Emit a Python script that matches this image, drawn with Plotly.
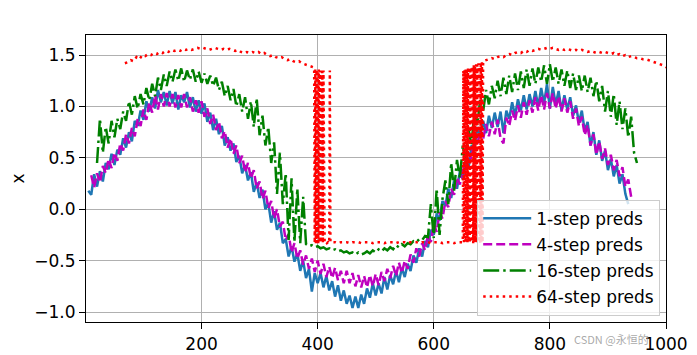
import plotly.graph_objects as go

# ---- data ----
blue_t = list(range(5, 936, 5))
blue_v = [
    0.18, 0.14, 0.34, 0.22, 0.37, 0.27, 0.45, 0.39, 0.54, 0.43,
    0.58, 0.53, 0.69, 0.60, 0.75, 0.66, 0.86, 0.81, 0.96, 0.87,
    1.05, 0.95, 1.09, 0.98, 1.16, 1.04, 1.14, 1.01, 1.15, 1.03,
    1.14, 0.97, 1.11, 1.04, 1.14, 0.99, 1.09, 0.95, 1.06, 0.93,
    1.03, 0.85, 0.94, 0.77, 0.88, 0.73, 0.81, 0.62, 0.70, 0.57,
    0.64, 0.46, 0.52, 0.35, 0.43, 0.28, 0.36, 0.17, 0.26, 0.11,
    0.19, 0.00, 0.06, -0.13, -0.02, -0.20, -0.13, -0.33, -0.29, -0.46,
    -0.36, -0.51, -0.43, -0.60, -0.50, -0.67, -0.58, -0.80, -0.62, -0.72,
    -0.62, -0.76, -0.65, -0.79, -0.70, -0.85, -0.74, -0.89, -0.79, -0.92,
    -0.84, -0.96, -0.85, -0.96, -0.83, -0.92, -0.77, -0.86, -0.72, -0.84,
    -0.72, -0.82, -0.66, -0.78, -0.64, -0.73, -0.60, -0.71, -0.57, -0.66,
    -0.53, -0.60, -0.45, -0.52, -0.38, -0.46, -0.31, -0.37, -0.20, -0.25,
    -0.04, -0.11, 0.08, 0.03, 0.20, 0.11, 0.28, 0.20, 0.37, 0.29,
    0.48, 0.40, 0.62, 0.59, 0.80, 0.71, 0.86, 0.74, 0.91, 0.79,
    0.94, 0.80, 0.95, 0.74, 0.96, 0.88, 1.04, 0.91, 1.07, 0.96,
    1.11, 0.97, 1.12, 1.00, 1.15, 1.00, 1.18, 1.03, 1.22, 0.98,
    1.19, 1.02, 1.15, 0.96, 1.11, 0.97, 1.09, 0.91, 1.01, 0.84,
    0.96, 0.76, 0.85, 0.62, 0.75, 0.53, 0.67, 0.47, 0.57, 0.38,
    0.49, 0.32, 0.43, 0.25, 0.34, 0.15, 0.05,
]

mag_t = list(range(10, 941, 5))
mag_v = [
    0.33, 0.21, 0.35, 0.26, 0.42, 0.35, 0.49, 0.40, 0.55, 0.47,
    0.64, 0.57, 0.73, 0.64, 0.79, 0.71, 0.88, 0.81, 0.97, 0.87,
    1.04, 0.94, 1.11, 0.97, 1.12, 1.00, 1.13, 1.00, 1.12, 0.99,
    1.11, 0.99, 1.12, 0.99, 1.09, 0.95, 1.06, 0.94, 1.05, 0.90,
    0.98, 0.83, 0.92, 0.77, 0.85, 0.69, 0.76, 0.60, 0.69, 0.54,
    0.62, 0.45, 0.52, 0.36, 0.45, 0.30, 0.38, 0.20, 0.27, 0.10,
    0.18, 0.01, 0.08, -0.09, 0.00, -0.17, -0.12, -0.30, -0.24, -0.42,
    -0.33, -0.48, -0.40, -0.54, -0.45, -0.58, -0.48, -0.61, -0.50, -0.63,
    -0.53, -0.66, -0.56, -0.67, -0.57, -0.69, -0.60, -0.72, -0.60, -0.72,
    -0.62, -0.75, -0.64, -0.76, -0.65, -0.76, -0.64, -0.75, -0.63, -0.74,
    -0.61, -0.70, -0.58, -0.67, -0.55, -0.65, -0.52, -0.62, -0.50, -0.58,
    -0.44, -0.52, -0.38, -0.46, -0.33, -0.40, -0.25, -0.32, -0.14, -0.22,
    -0.03, -0.09, 0.08, 0.02, 0.20, 0.14, 0.31, 0.24, 0.42, 0.35,
    0.55, 0.49, 0.69, 0.62, 0.78, 0.68, 0.83, 0.71, 0.85, 0.73,
    0.87, 0.69, 0.64, 0.89, 0.81, 0.96, 0.86, 1.01, 0.89, 1.04,
    0.92, 1.06, 0.94, 1.09, 0.96, 1.11, 0.97, 1.13, 0.98, 1.13,
    0.98, 1.10, 0.95, 1.08, 0.94, 1.05, 0.88, 0.98, 0.81, 0.90,
    0.72, 0.82, 0.62, 0.73, 0.53, 0.66, 0.49, 0.59, 0.43, 0.53,
    0.38, 0.48, 0.32, 0.41, 0.22, 0.29, 0.12,
]

green_t = list(range(20, 951, 5))
green_v = [
    0.45, 0.88, 0.55, 0.80, 0.64, 0.86, 0.70, 0.88, 0.78, 0.95,
    0.86, 1.05, 0.92, 1.10, 0.98, 1.12, 1.02, 1.18, 1.06, 1.22,
    1.10, 1.28, 1.16, 1.31, 1.20, 1.34, 1.24, 1.36, 1.25, 1.37,
    1.24, 1.35, 1.26, 1.36, 1.24, 1.34, 1.23, 1.32, 1.22, 1.30,
    1.20, 1.28, 1.16, 1.24, 1.10, 1.20, 1.06, 1.17, 1.00, 1.12,
    0.95, 1.09, 0.88, 1.05, 0.80, 1.08, 0.72, 0.91, 0.62, 0.80,
    0.45, 0.65, 0.15, 0.55, 0.05, 0.35, -0.30, 0.30, -0.32, 0.20,
    -0.33, 0.12, -0.34, -0.36, -0.35, -0.37, -0.36, -0.38, -0.37, -0.39,
    -0.38, -0.40, -0.39, -0.41, -0.40, -0.42, -0.41, -0.43, -0.42, -0.44,
    -0.42, -0.44, -0.43, -0.41, -0.43, -0.40, -0.42, -0.39, -0.41, -0.38,
    -0.40, -0.37, -0.39, -0.35, -0.37, -0.34, -0.36, -0.33, -0.34, -0.31,
    -0.32, -0.29, -0.30, -0.26, -0.27, 0.05, -0.28, 0.20, -0.25, 0.10,
    0.28, 0.05, 0.45, 0.18, 0.48, 0.30, 0.62, 0.45, 0.78, 0.62,
    0.96, 0.82, 1.06, 0.95, 1.16, 1.02, 1.20, 1.08, 1.25, 1.10,
    1.28, 1.12, 1.30, 1.14, 1.32, 1.16, 1.34, 1.18, 1.36, 1.20,
    1.37, 1.22, 1.38, 1.24, 1.40, 1.22, 1.41, 1.24, 1.38, 1.22,
    1.36, 1.20, 1.35, 1.18, 1.32, 1.16, 1.30, 1.15, 1.30, 1.14,
    1.28, 1.10, 1.25, 1.05, 1.20, 0.95, 1.15, 0.90, 1.12, 0.82,
    1.05, 0.78, 0.98, 0.70, 0.90, 0.55, 0.45,
]

# 64-step predictions, in pieces
red_seg1_t = list(range(68, 394, 5))
red_seg1_v = [
    1.42, 1.43, 1.45, 1.44, 1.48, 1.46, 1.50, 1.49, 1.51, 1.50,
    1.52, 1.51, 1.53, 1.52, 1.54, 1.53, 1.55, 1.54, 1.55, 1.54,
    1.56, 1.55, 1.56, 1.55, 1.56, 1.57, 1.56, 1.57, 1.56, 1.55,
    1.56, 1.57, 1.56, 1.55, 1.56, 1.55, 1.56, 1.55, 1.54, 1.55,
    1.53, 1.52, 1.53, 1.52, 1.53, 1.52, 1.53, 1.51, 1.52, 1.50,
    1.49, 1.50, 1.48, 1.47, 1.48, 1.46, 1.45, 1.46, 1.44, 1.43,
    1.44, 1.42, 1.41, 1.40, 1.39, 1.38,
]
red_osc1_t = list(range(394, 423))
red_osc1_v = [
    1.37, -0.33, 1.36, -0.33, 1.36, -0.32, 1.35, -0.33, 1.36, -0.33,
    1.35, -0.32, 1.35, -0.33, 1.34, -0.33, 1.35,
    -0.32, -0.32, -0.33, -0.32, -0.32, -0.33, -0.32, -0.32, -0.33, -0.32,
    1.35, -0.32,
]
red_low_t = list(range(425, 651, 5))
red_low_v = [
    -0.32, -0.32, -0.33, -0.32, -0.32, -0.32, -0.33, -0.32, -0.32, -0.32,
    -0.33, -0.32, -0.32, -0.32, -0.33, -0.32, -0.32, -0.32, -0.33, -0.32,
    -0.32, -0.32, -0.33, -0.32, -0.32, -0.32, -0.33, -0.32, -0.32, -0.32,
    -0.33, -0.32, -0.32, -0.32, -0.33, -0.32, -0.32, -0.32, -0.33, -0.32,
    -0.32, -0.32, -0.33, -0.32, -0.32, -0.32,
]
red_osc2_t = list(range(651, 685))
red_osc2_v = [
    1.35, -0.32, 1.36, -0.32, 1.36, -0.33, 1.37, -0.32, 1.37, -0.32,
    1.38, -0.33, 1.38, -0.32, 1.39, -0.32, 1.39, -0.33, 1.40, -0.32,
    1.40, -0.32, 1.41, -0.33, 1.41, -0.32, 1.42, -0.32, 1.42, -0.33,
    1.43, -0.32, 1.43, -0.32,
]
red_seg3_t = list(range(685, 1001, 5))
red_seg3_v = [
    1.44, 1.45, 1.46, 1.47, 1.46, 1.48, 1.49, 1.48, 1.50, 1.51,
    1.50, 1.52, 1.53, 1.52, 1.54, 1.53, 1.55, 1.54, 1.55, 1.56,
    1.55, 1.56, 1.57, 1.56, 1.57, 1.56, 1.55, 1.56, 1.55, 1.56,
    1.55, 1.54, 1.55, 1.54, 1.55, 1.54, 1.53, 1.54, 1.53, 1.52,
    1.53, 1.52, 1.53, 1.52, 1.51, 1.52, 1.50, 1.51, 1.49, 1.50,
    1.48, 1.49, 1.48, 1.47, 1.47, 1.46, 1.46, 1.45, 1.44, 1.43,
    1.42, 1.41, 1.40, 1.38,
]
red_t = red_seg1_t + red_osc1_t + red_low_t + red_osc2_t + red_seg3_t
red_v = red_seg1_v + red_osc1_v + red_low_v + red_osc2_v + red_seg3_v

series_names = ["1-step preds", "4-step preds", "16-step preds", "64-step preds"]
x_ticks = [200, 400, 600, 800, 1000]
y_ticks = [-1.0, -0.5, 0.0, 0.5, 1.0, 1.5]

FONT = "DejaVu Sans"
FS = 17
LW = 2.5

fig = go.Figure()
fig.add_trace(go.Scatter(x=blue_t, y=blue_v, mode="lines", name=series_names[0],
                         legendgroup="a", line=dict(color="#1f77b4", width=LW)))
fig.add_trace(go.Scatter(x=mag_t, y=mag_v, mode="lines", name=series_names[1],
                         legendgroup="b", line=dict(color="#bf00bf", width=LW, dash="9px,4px")))
fig.add_trace(go.Scatter(x=green_t, y=green_v, mode="lines", name=series_names[2],
                         legendgroup="c",
                         line=dict(color="#008000", width=LW, dash="16px,4px,2.5px,4px")))
fig.add_trace(go.Scatter(x=red_t, y=red_v, mode="lines", name=series_names[3],
                         legendgroup="d", line=dict(color="#ff0000", width=LW, dash="2.5px,4px")))

axis_common = dict(
    showline=True, linecolor="black", linewidth=1.2, mirror=True,
    ticks="outside", ticklen=6, tickwidth=1.2, tickcolor="black",
    showgrid=True, gridcolor="#b0b0b0", gridwidth=1.2,
    zeroline=False, automargin=False,
    tickfont=dict(family=FONT, size=FS, color="black"),
)

# the page adds an 8px body margin, so the figure is sized and offset for it
fig.update_layout(
    width=689, height=347,
    margin=dict(l=78, r=31, t=27, b=33),
    paper_bgcolor="white", plot_bgcolor="white",
    font=dict(family=FONT, size=FS, color="black"),
    xaxis=dict(range=[1, 1000], tickvals=x_ticks, **axis_common),
    yaxis=dict(range=[-1.097, 1.695], tickvals=y_ticks, tickformat=".1f",
               title=dict(text="x", font=dict(family=FONT, size=FS), standoff=14),
               **axis_common),
    legend=dict(x=0.99, y=0.022, xanchor="right", yanchor="bottom",
                bgcolor="rgba(255,255,255,0.8)", bordercolor="#cccccc", borderwidth=1,
                itemwidth=48, tracegroupgap=1,
                font=dict(family=FONT, size=FS, color="black")),
    showlegend=True,
    annotations=[dict(text="CSDN @永恒的", xref="paper", yref="paper", x=0.838, y=-0.059,
                      xanchor="left", yanchor="middle", showarrow=False,
                      font=dict(family="Noto Sans CJK SC", size=11, color="rgba(160,160,160,0.9)"))],
)

fig.write_html("out.html")
